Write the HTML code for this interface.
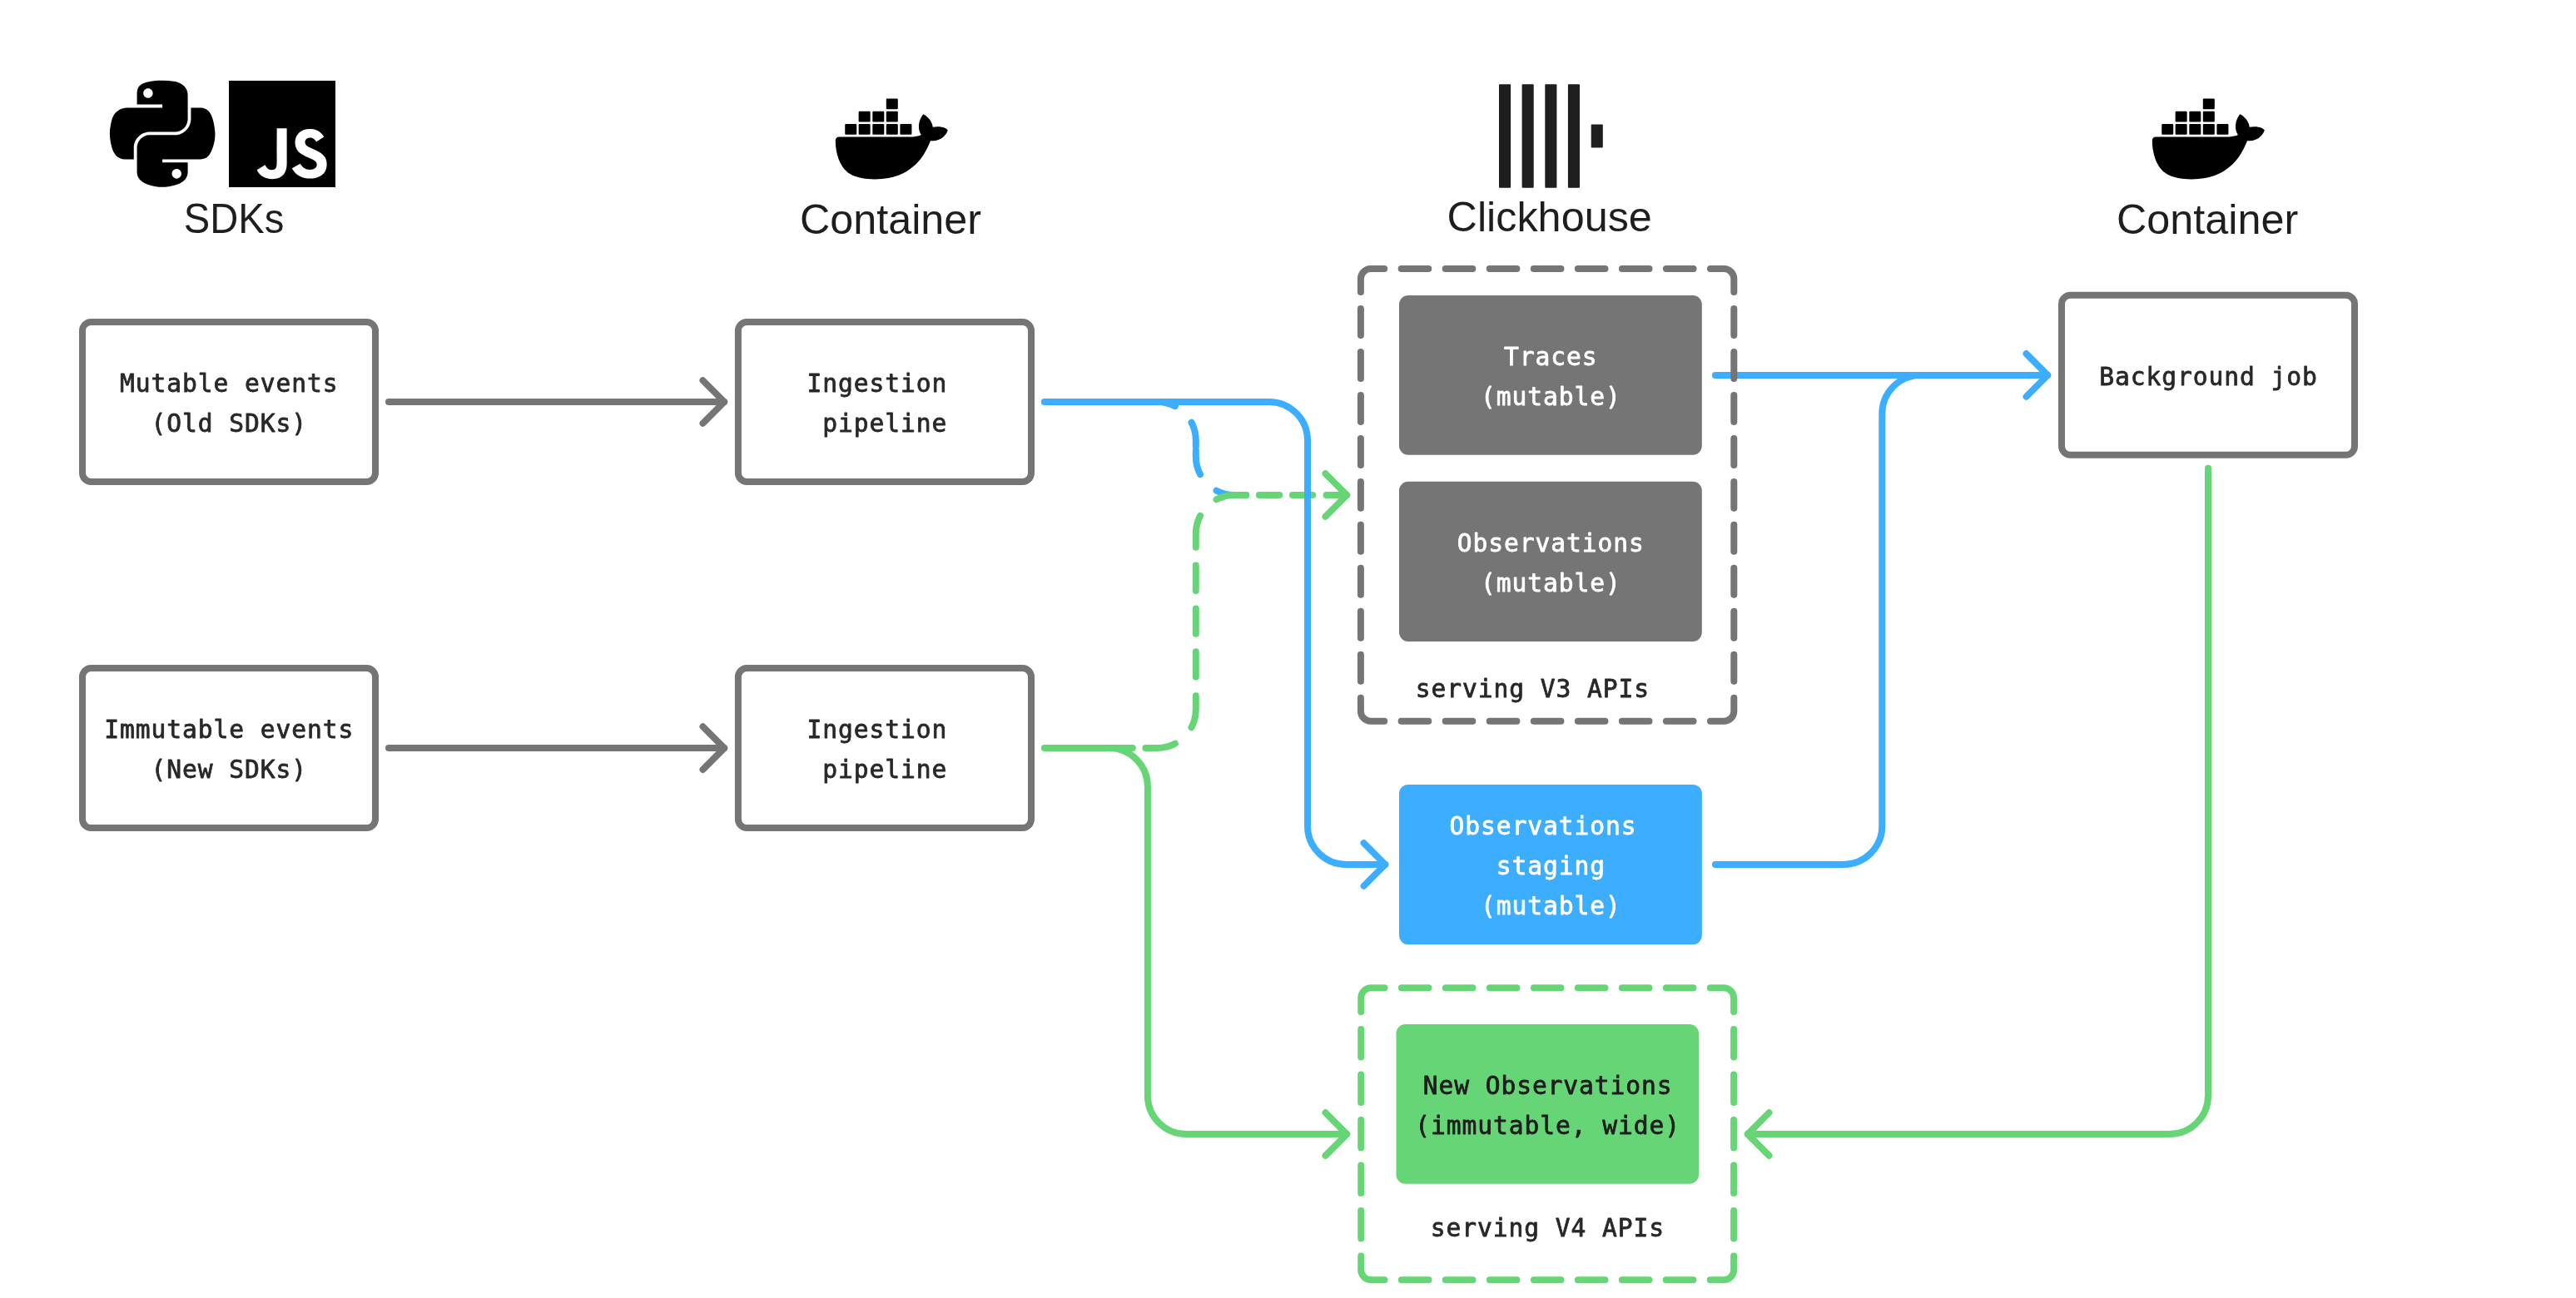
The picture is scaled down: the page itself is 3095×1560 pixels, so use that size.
<!DOCTYPE html>
<html lang="en"><head><meta charset="utf-8"><title>Ingestion architecture</title>
<style>
html,body{margin:0;padding:0;background:#fff}
svg{display:block}
.m{font-family:'DejaVu Sans Mono','Liberation Mono',monospace;font-size:29.6px;stroke-width:.8px;stroke-linejoin:round;white-space:pre;letter-spacing:0.929px}
.s{font-family:'Liberation Sans',sans-serif;fill:#1e1e1e}
</style></head><body>
<svg width="3095" height="1560" viewBox="0 0 3095 1560">
<rect width="3095" height="1560" fill="#fff"/>
<path transform="translate(131.9 96.8) scale(1.1385)" d="M54.919 0C50.335.022 45.958.413 42.106 1.095 30.760 3.099 28.700 7.295 28.700 15.032V25.251H55.513V28.657H28.700 18.638C10.845 28.657 4.022 33.341 1.888 42.251-.574 52.464-.683 58.837 1.888 69.501 3.793 77.439 8.345 83.095 16.138 83.095H25.356V70.845C25.356 61.995 33.013 54.188 42.106 54.188H68.888C76.342 54.188 82.294 48.050 82.294 40.563V15.032C82.294 7.766 76.164 2.307 68.888 1.095 64.282.328 59.502-.020 54.919 0ZM40.419 8.220C43.188 8.220 45.450 10.518 45.450 13.345 45.450 16.161 43.188 18.438 40.419 18.438 37.639 18.438 35.388 16.161 35.388 13.345 35.388 10.518 37.639 8.220 40.419 8.220ZM85.638 28.657V40.563C85.638 49.794 77.812 57.563 68.888 57.563H42.106C34.771 57.563 28.700 63.842 28.700 71.188V96.720C28.700 103.986 35.019 108.260 42.106 110.345 50.594 112.840 58.732 113.291 68.888 110.345 75.638 108.390 82.294 104.457 82.294 96.720V86.501H55.513V83.095H82.294 95.700C103.492 83.095 106.396 77.659 109.106 69.501 111.906 61.102 111.786 53.025 109.106 42.251 107.180 34.493 103.502 28.657 95.700 28.657H85.638ZM70.575 93.313C73.354 93.313 75.606 95.591 75.606 98.407 75.606 101.233 73.354 103.532 70.575 103.532 67.806 103.532 65.544 101.233 65.544 98.407 65.544 95.591 67.806 93.313 70.575 93.313Z" fill="#000"/>
<path transform="translate(275 97) scale(5.33333)" d="M0 0h24v24H0V0zm22.034 18.276c-.175-1.095-.888-2.015-3.003-2.873-.736-.345-1.554-.585-1.797-1.14-.091-.33-.105-.51-.046-.705.15-.646.915-.84 1.515-.66.39.12.75.42.976.9 1.034-.676 1.034-.676 1.755-1.125-.27-.42-.404-.601-.586-.78-.63-.705-1.469-1.065-2.834-1.034l-.705.089c-.676.165-1.32.525-1.71 1.005-1.14 1.291-.811 3.541.569 4.471 1.365 1.02 3.361 1.244 3.616 2.205.24 1.17-.87 1.545-1.966 1.41-.811-.18-1.26-.586-1.755-1.336l-1.83 1.051c.21.48.45.689.81 1.109 1.74 1.756 6.09 1.666 6.871-1.004.029-.09.24-.705.074-1.65l.046.067zm-8.983-7.525h-2.248c0 2.078-.009 4.144-.009 6.085 0 1.232.063 2.363-.138 2.711-.33.689-1.18.601-1.566.48-.396-.196-.597-.466-.83-.855-.063-.105-.11-.196-.127-.196l-1.825 1.125c.305.63.75 1.172 1.324 1.517.855.51 2.004.675 3.207.405.783-.226 1.458-.691 1.811-1.411.51-.93.402-2.07.397-3.346.012-2.054 0-4.109 0-6.179l.004-.056z" fill="#000"/>
<path transform="translate(1003.8 99.5) scale(5.62500)" d="M13.983 11.078h2.119a.186.186 0 00.186-.185V9.006a.186.186 0 00-.186-.186h-2.119a.185.185 0 00-.185.185v1.888c0 .102.083.185.185.185m-2.954-5.43h2.118a.186.186 0 00.186-.186V3.574a.186.186 0 00-.186-.185h-2.118a.185.185 0 00-.185.185v1.888c0 .102.082.185.185.185m0 2.716h2.118a.187.187 0 00.186-.186V6.29a.186.186 0 00-.186-.185h-2.118a.185.185 0 00-.185.185v1.887c0 .102.082.185.185.186m-2.93 0h2.12a.186.186 0 00.184-.186V6.29a.185.185 0 00-.185-.185H8.1a.185.185 0 00-.185.185v1.887c0 .102.083.185.185.186m-2.964 0h2.119a.186.186 0 00.185-.186V6.29a.185.185 0 00-.185-.185H5.136a.186.186 0 00-.186.185v1.887c0 .102.084.185.186.186m5.893 2.715h2.118a.186.186 0 00.186-.185V9.006a.186.186 0 00-.186-.186h-2.118a.185.185 0 00-.185.185v1.888c0 .102.082.185.185.185m-2.93 0h2.12a.185.185 0 00.184-.185V9.006a.185.185 0 00-.184-.186h-2.12a.185.185 0 00-.184.185v1.888c0 .102.083.185.185.185m-2.964 0h2.119a.185.185 0 00.185-.185V9.006a.185.185 0 00-.184-.186h-2.12a.186.186 0 00-.186.186v1.887c0 .102.084.185.186.185m-2.92 0h2.12a.185.185 0 00.184-.185V9.006a.185.185 0 00-.184-.186h-2.12a.185.185 0 00-.184.185v1.888c0 .102.082.185.185.185M23.763 9.89c-.065-.051-.672-.51-1.954-.51-.338.001-.676.03-1.01.087-.248-1.7-1.653-2.53-1.716-2.566l-.344-.199-.226.327c-.284.438-.49.922-.612 1.43-.23.97-.09 1.882.403 2.661-.595.332-1.55.413-1.744.42H.751a.751.751 0 00-.75.748 11.376 11.376 0 00.692 4.062c.545 1.428 1.355 2.48 2.41 3.124 1.18.723 3.1 1.137 5.275 1.137.983.003 1.963-.086 2.93-.266a12.248 12.248 0 003.823-1.389c.98-.567 1.86-1.288 2.61-2.136 1.252-1.418 1.998-2.997 2.553-4.4h.221c1.372 0 2.215-.549 2.68-1.009.309-.293.55-.65.707-1.046l.098-.288Z" fill="#000"/>
<path transform="translate(2585.8 99.5) scale(5.62500)" d="M13.983 11.078h2.119a.186.186 0 00.186-.185V9.006a.186.186 0 00-.186-.186h-2.119a.185.185 0 00-.185.185v1.888c0 .102.083.185.185.185m-2.954-5.43h2.118a.186.186 0 00.186-.186V3.574a.186.186 0 00-.186-.185h-2.118a.185.185 0 00-.185.185v1.888c0 .102.082.185.185.185m0 2.716h2.118a.187.187 0 00.186-.186V6.29a.186.186 0 00-.186-.185h-2.118a.185.185 0 00-.185.185v1.887c0 .102.082.185.185.186m-2.93 0h2.12a.186.186 0 00.184-.186V6.29a.185.185 0 00-.185-.185H8.1a.185.185 0 00-.185.185v1.887c0 .102.083.185.185.186m-2.964 0h2.119a.186.186 0 00.185-.186V6.29a.185.185 0 00-.185-.185H5.136a.186.186 0 00-.186.185v1.887c0 .102.084.185.186.186m5.893 2.715h2.118a.186.186 0 00.186-.185V9.006a.186.186 0 00-.186-.186h-2.118a.185.185 0 00-.185.185v1.888c0 .102.082.185.185.185m-2.93 0h2.12a.185.185 0 00.184-.185V9.006a.185.185 0 00-.184-.186h-2.12a.185.185 0 00-.184.185v1.888c0 .102.083.185.185.185m-2.964 0h2.119a.185.185 0 00.185-.185V9.006a.185.185 0 00-.184-.186h-2.12a.186.186 0 00-.186.186v1.887c0 .102.084.185.186.185m-2.92 0h2.12a.185.185 0 00.184-.185V9.006a.185.185 0 00-.184-.186h-2.12a.185.185 0 00-.184.185v1.888c0 .102.082.185.185.185M23.763 9.89c-.065-.051-.672-.51-1.954-.51-.338.001-.676.03-1.01.087-.248-1.7-1.653-2.53-1.716-2.566l-.344-.199-.226.327c-.284.438-.49.922-.612 1.43-.23.97-.09 1.882.403 2.661-.595.332-1.55.413-1.744.42H.751a.751.751 0 00-.75.748 11.376 11.376 0 00.692 4.062c.545 1.428 1.355 2.48 2.41 3.124 1.18.723 3.1 1.137 5.275 1.137.983.003 1.963-.086 2.93-.266a12.248 12.248 0 003.823-1.389c.98-.567 1.86-1.288 2.61-2.136 1.252-1.418 1.998-2.997 2.553-4.4h.221c1.372 0 2.215-.549 2.68-1.009.309-.293.55-.65.707-1.046l.098-.288Z" fill="#000"/>
<rect x="1801" y="101.2" width="14.1" height="124.6" rx="1" fill="#1e1e1e"/>
<rect x="1828.6" y="101.2" width="14.1" height="124.6" rx="1" fill="#1e1e1e"/>
<rect x="1856.3" y="101.2" width="14.1" height="124.6" rx="1" fill="#1e1e1e"/>
<rect x="1883.9" y="101.2" width="14.1" height="124.6" rx="1" fill="#1e1e1e"/>
<rect x="1911.7" y="149.5" width="14.1" height="28" rx="1" fill="#1e1e1e"/>
<g style="filter:grayscale(1)">
<text x="220.86" y="279.6" class="s" font-size="50" textLength="120.44" lengthAdjust="spacingAndGlyphs">SDKs</text>
<text x="960.95" y="281.4" class="s" font-size="50" textLength="218.09" lengthAdjust="spacingAndGlyphs">Container</text>
<text x="1738.54" y="277.5" class="s" font-size="50" textLength="246.29" lengthAdjust="spacingAndGlyphs">Clickhouse</text>
<text x="2543.05" y="281.4" class="s" font-size="50" textLength="218.09" lengthAdjust="spacingAndGlyphs">Container</text>
</g>
<path d="M1350.5 482.9L1390.5 482.9A46.3 46.3 0 0 1 1411.88 488.13M1431.49 507.68A46.3 46.3 0 0 1 1436.8 529.2L1436.8 536.45M1436.8 541.45L1436.8 548.7A46.3 46.3 0 0 0 1442.03 570.08M1461.58 589.69A46.3 46.3 0 0 0 1483.1 595L1497.1 595" fill="none" stroke="#3dadff" stroke-width="8.0" stroke-linecap="round" stroke-linejoin="round" />
<path d="M1314.9 899L1360.8 899M1376.4 899L1390.5 899A46.3 46.3 0 0 0 1411.88 893.77M1431.49 874.22A46.3 46.3 0 0 0 1436.8 852.7L1436.8 836.2M1436.8 813.6L1436.8 783.2M1436.8 761.8L1436.8 731.4M1436.8 710.1L1436.8 679.6M1436.8 657.7L1436.8 641.3A46.3 46.3 0 0 1 1442.03 619.92M1461.58 600.31A46.3 46.3 0 0 1 1483.1 595L1497.3 595M1512.9 595L1537.1 595M1552.9 595L1577.1 595M1593.6 595L1618.2 595" fill="none" stroke="#66d575" stroke-width="8.0" stroke-linecap="round" stroke-linejoin="round" />
<path d="M1592.5 569.2L1618.2 595L1592.5 620.8" fill="none" stroke="#66d575" stroke-width="8.0" stroke-linecap="round" stroke-linejoin="round"/>
<path d="M1254.8 482.9L1524.7 482.9A46.3 46.3 0 0 1 1571 529.2L1571 992.7A46.3 46.3 0 0 0 1617.3 1039L1664.3 1039" fill="none" stroke="#3dadff" stroke-width="8.0" stroke-linecap="round" stroke-linejoin="round" />
<path d="M1638.6 1013.2L1664.3 1039L1638.6 1064.8" fill="none" stroke="#3dadff" stroke-width="8.0" stroke-linecap="round" stroke-linejoin="round"/>
<path d="M2060.9 1039L2215 1039A46.3 46.3 0 0 0 2261.3 992.7L2261.3 497.2A46.3 46.3 0 0 1 2307.6 450.9L2400 450.9" fill="none" stroke="#3dadff" stroke-width="8.0" stroke-linecap="round" stroke-linejoin="round" />
<path d="M2060.9 450.9H2460.2" fill="none" stroke="#3dadff" stroke-width="8.0" stroke-linecap="round" stroke-linejoin="round" />
<path d="M2434.5 425.1L2460.2 450.9L2434.5 476.7" fill="none" stroke="#3dadff" stroke-width="8.0" stroke-linecap="round" stroke-linejoin="round"/>
<path d="M1254.9 899L1332.6 899A46.3 46.3 0 0 1 1378.9 945.3L1378.9 1316.8A46.3 46.3 0 0 0 1425.2 1363.1L1618.2 1363.1" fill="none" stroke="#66d575" stroke-width="8.0" stroke-linecap="round" stroke-linejoin="round" />
<path d="M1592.5 1337.3L1618.2 1363.1L1592.5 1388.9" fill="none" stroke="#66d575" stroke-width="8.0" stroke-linecap="round" stroke-linejoin="round"/>
<path d="M2653 562.8L2653 1316.8A46.3 46.3 0 0 1 2606.7 1363.1L2099.8 1363.1" fill="none" stroke="#66d575" stroke-width="8.0" stroke-linecap="round" stroke-linejoin="round" />
<path d="M2125.5 1337.3L2099.8 1363.1L2125.5 1388.9" fill="none" stroke="#66d575" stroke-width="8.0" stroke-linecap="round" stroke-linejoin="round"/>
<path d="M467 483H870.2" fill="none" stroke="#757575" stroke-width="8.0" stroke-linecap="round" stroke-linejoin="round" />
<path d="M844.5 457.2L870.2 483L844.5 508.8" fill="none" stroke="#757575" stroke-width="8.0" stroke-linecap="round" stroke-linejoin="round"/>
<path d="M467 899.1H870.2" fill="none" stroke="#757575" stroke-width="8.0" stroke-linecap="round" stroke-linejoin="round" />
<path d="M844.5 873.3L870.2 899.1L844.5 924.9" fill="none" stroke="#757575" stroke-width="8.0" stroke-linecap="round" stroke-linejoin="round"/>
<path d="M1634.9 351.04V335.05A12.0 12.0 0 0 1 1646.9 323.05H1663.22M2054.98 323.05H2071.3A12.0 12.0 0 0 1 2083.3 335.05V351.04M2083.3 838.71V854.7A12.0 12.0 0 0 1 2071.3 866.7H2054.98M1663.22 866.7H1646.9A12.0 12.0 0 0 1 1634.9 854.7V838.71M1683.63 323.05H1716.27M1683.63 866.7H1716.27M1736.68 323.05H1769.32M1736.68 866.7H1769.32M1789.73 323.05H1822.37M1789.73 866.7H1822.37M1842.78 323.05H1875.42M1842.78 866.7H1875.42M1895.83 323.05H1928.47M1895.83 866.7H1928.47M1948.88 323.05H1981.52M1948.88 866.7H1981.52M2001.93 323.05H2034.57M2001.93 866.7H2034.57M1634.9 371.03V403M2083.3 371.03V403M1634.9 422.99V454.97M2083.3 422.99V454.97M1634.9 474.96V506.93M2083.3 474.96V506.93M1634.9 526.92V558.9M2083.3 526.92V558.9M1634.9 578.89V610.86M2083.3 578.89V610.86M1634.9 630.85V662.83M2083.3 630.85V662.83M1634.9 682.82V714.79M2083.3 682.82V714.79M1634.9 734.78V766.76M2083.3 734.78V766.76M1634.9 786.75V818.72M2083.3 786.75V818.72" fill="none" stroke="#757575" stroke-width="8.0" stroke-linecap="round" stroke-linejoin="round" />
<path d="M1635.2 1215.97V1199.2A12.0 12.0 0 0 1 1647.2 1187.2H1663.5M2054.8 1187.2H2071.1A12.0 12.0 0 0 1 2083.1 1199.2V1215.97M2083.1 1509.53V1526.3A12.0 12.0 0 0 1 2071.1 1538.3H2054.8M1663.5 1538.3H1647.2A12.0 12.0 0 0 1 1635.2 1526.3V1509.53M1683.88 1187.2H1716.49M1683.88 1538.3H1716.49M1736.87 1187.2H1769.48M1736.87 1538.3H1769.48M1789.86 1187.2H1822.47M1789.86 1538.3H1822.47M1842.85 1187.2H1875.45M1842.85 1538.3H1875.45M1895.83 1187.2H1928.44M1895.83 1538.3H1928.44M1948.82 1187.2H1981.43M1948.82 1538.3H1981.43M2001.81 1187.2H2034.42M2001.81 1538.3H2034.42M1635.2 1236.94V1270.49M2083.1 1236.94V1270.49M1635.2 1291.46V1325.01M2083.1 1291.46V1325.01M1635.2 1345.98V1379.52M2083.1 1345.98V1379.52M1635.2 1400.49V1434.04M2083.1 1400.49V1434.04M1635.2 1455.01V1488.56M2083.1 1455.01V1488.56" fill="none" stroke="#66d575" stroke-width="8.0" stroke-linecap="round" stroke-linejoin="round" />
<rect x="99" y="386.9" width="352" height="192.1" rx="10.5" fill="#fff" stroke="#757575" stroke-width="8.0"/>
<rect x="99" y="803.1" width="352" height="192" rx="10.5" fill="#fff" stroke="#757575" stroke-width="8.0"/>
<rect x="886.9" y="386.9" width="352.1" height="192.1" rx="10.5" fill="#fff" stroke="#757575" stroke-width="8.0"/>
<rect x="886.9" y="803.1" width="352.1" height="192" rx="10.5" fill="#fff" stroke="#757575" stroke-width="8.0"/>
<rect x="2477" y="354.85" width="352" height="192" rx="10.5" fill="#fff" stroke="#757575" stroke-width="8.0"/>
<rect x="1681" y="355" width="363.8" height="191.8" rx="11" fill="#757575"/>
<rect x="1681" y="578.7" width="363.8" height="192.3" rx="11" fill="#757575"/>
<rect x="1681" y="942.9" width="363.9" height="192.2" rx="11" fill="#3dadff"/>
<rect x="1677.5" y="1231" width="363.5" height="191.7" rx="11" fill="#66d575"/>
<g style="filter:grayscale(1)">
<text x="144.11" y="470.95" fill="#282828" stroke="#282828" class="m">Mutable events</text>
<text x="181.61" y="519.05" fill="#282828" stroke="#282828" class="m">(Old SDKs)</text>
<text x="125.36" y="887.05" fill="#282828" stroke="#282828" class="m">Immutable events</text>
<text x="181.61" y="935.15" fill="#282828" stroke="#282828" class="m">(New SDKs)</text>
<text x="969.61" y="470.95" fill="#282828" stroke="#282828" class="m">Ingestion</text>
<text x="988.36" y="519.05" fill="#282828" stroke="#282828" class="m">pipeline</text>
<text x="969.61" y="887.05" fill="#282828" stroke="#282828" class="m">Ingestion</text>
<text x="988.36" y="935.15" fill="#282828" stroke="#282828" class="m">pipeline</text>
<text x="2522.21" y="463" fill="#282828" stroke="#282828" class="m">Background job</text>
<text x="1807.11" y="438.85" fill="#fff" stroke="#fff" class="m">Traces</text>
<text x="1778.99" y="486.95" fill="#fff" stroke="#fff" class="m">(mutable)</text>
<text x="1750.86" y="662.85" fill="#fff" stroke="#fff" class="m">Observations</text>
<text x="1778.99" y="710.95" fill="#fff" stroke="#fff" class="m">(mutable)</text>
<text x="1741.49" y="1002.9" fill="#fff" stroke="#fff" class="m">Observations</text>
<text x="1797.74" y="1051" fill="#fff" stroke="#fff" class="m">staging</text>
<text x="1778.99" y="1099.1" fill="#fff" stroke="#fff" class="m">(mutable)</text>
<text x="1709.66" y="1314.85" fill="#1e1e1e" stroke="#1e1e1e" class="m">New Observations</text>
<text x="1700.29" y="1362.95" fill="#1e1e1e" stroke="#1e1e1e" class="m">(immutable, wide)</text>
<text x="1700.84" y="837.5" fill="#282828" stroke="#282828" class="m">serving V3 APIs</text>
<text x="1718.84" y="1486.2" fill="#282828" stroke="#282828" class="m">serving V4 APIs</text>
</g>
</svg></body></html>
